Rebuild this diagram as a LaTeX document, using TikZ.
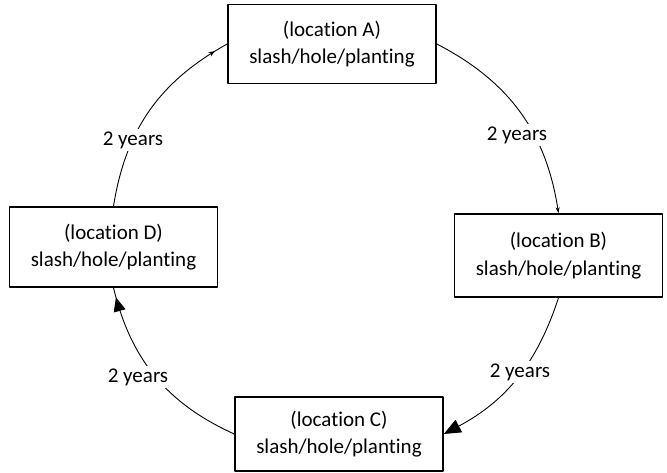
\documentclass[tikz,border=0pt]{standalone}
\usepackage{fontspec}
\setmainfont{Carlito}[Ligatures=NoCommon]
\usepackage{tikz}
\usetikzlibrary{arrows.meta,decorations.markings}

\begin{document}
\begin{tikzpicture}[line cap=round,line join=round,x=1pt,y=1pt,
  loc/.style={draw,line width=1.6pt,align=center,inner sep=0pt,
    minimum width=208pt,minimum height=79pt,font=\fontsize{21}{27.5}\selectfont},
  yrs/.style={fill=white,inner sep=2pt,font=\fontsize{21}{25}\selectfont},
  arc/.style={line width=0.9pt}]
\useasboundingbox (0,0) rectangle (667,472);

\node [loc] (locA) at (332,428) {(location A)\\slash/hole/planting};
\node [loc,minimum height=83pt] (locB) at (558.5,216.5) {(location B)\\slash/hole/planting};
\node [loc,minimum height=74pt] (locC) at (339,38) {(location C)\\slash/hole/planting};
\node [loc,minimum height=80pt] (locD) at (113.5,225) {(location D)\\slash/hole/planting};

\draw [arc,postaction={decorate},decoration={markings,
  mark=at position 0.93 with {\arrow{Stealth[length=6pt,width=5pt]}}}]
  (locD.north) to [bend left=26] (locA.west);
\draw [arc,-{Stealth[length=6pt,width=4pt]}] (locA.east) to [bend left=27] (locB.north);
\draw [arc,-{Triangle[length=17pt,width=14pt]}] (locB.south) to [bend left=22] (locC.east);
\draw [arc,postaction={decorate},decoration={markings,
  mark=at position 0.95 with {\arrow{Triangle[length=14pt,width=12pt]}}}]
  (locC.west) to [bend left=26] (locD.south);

\node [yrs] (yrsDA) at (133,332) {2 years};
\node [yrs] (yrsAB) at (517,337) {2 years};
\node [yrs] (yrsBC) at (520,100) {2 years};
\node [yrs] (yrsCD) at (138,95) {2 years};
\end{tikzpicture}
\end{document}
